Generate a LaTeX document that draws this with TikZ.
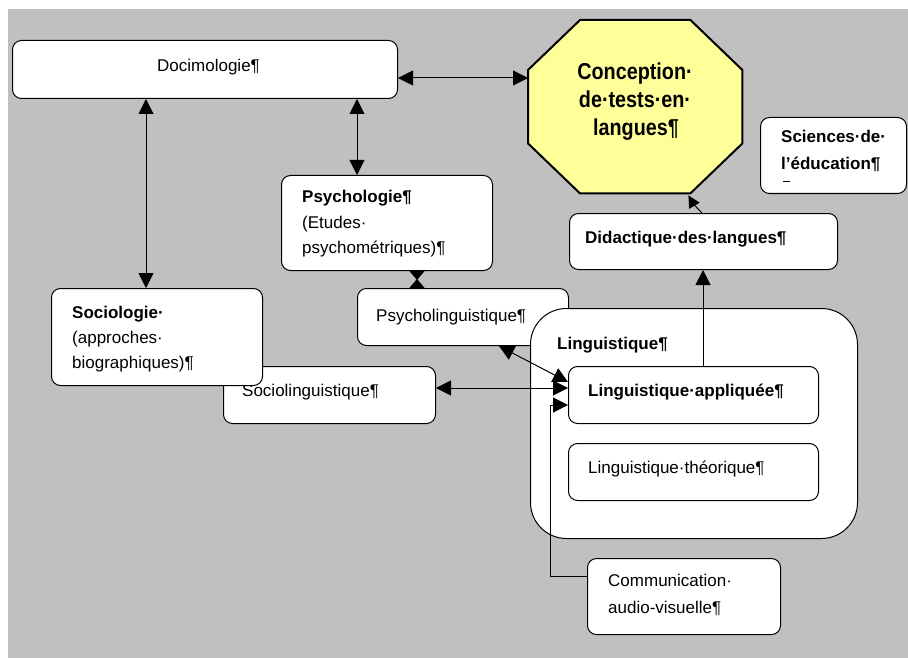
\documentclass[tikz,border=0pt]{standalone}
\usepackage{fontspec}
\setmainfont{Liberation Sans}
\usetikzlibrary{arrows.meta,calc}
\definecolor{bggray}{HTML}{C0C0C0}
\definecolor{octyellow}{HTML}{FFFF99}
\newcommand{\narrow}[1]{\scalebox{0.86}[1]{#1}}
\begin{document}
\begin{tikzpicture}[x=1pt,y=-1pt,
  box/.style={draw=black, fill=white, line width=1pt, rounded corners=9pt,
    inner sep=0pt, anchor=north west},
  txt/.style={inner sep=0pt, anchor=base west, font=\fontsize{17}{25}\selectfont},
  btxt/.style={inner sep=0pt, anchor=base west, font=\fontsize{17}{25}\selectfont\bfseries},
  ctxt/.style={inner sep=0pt, anchor=base, font=\fontsize{23}{28}\selectfont\bfseries},
  tip/.tip={Triangle[length=15pt,width=15pt]},
  bowtip/.tip={Triangle[reversed,length=9pt,width=15pt]},
  arr/.style={line width=1pt, -tip},
  darr/.style={line width=1pt, tip-tip},
]
% canvas
\fill[white] (0,0) rectangle (908,658);
\useasboundingbox (0,0) rectangle (908,658);
\fill[bggray] (8,9) rectangle (908,658);

% central octagon
\node[minimum width=214pt, minimum height=173pt, inner sep=0pt, anchor=north west] (concept) at (528,20) {};
\draw[line width=2pt, fill=octyellow]
  ($(concept.north west)+(52,0)$) -- ($(concept.north east)+(-52,0)$)
  -- ($(concept.north east)+(0,50)$) -- ($(concept.south east)+(0,-50)$)
  -- ($(concept.south east)+(-52,0)$) coordinate (oBR) -- ($(concept.south west)+(52,0)$)
  -- ($(concept.south west)+(0,-50)$) -- ($(concept.north west)+(0,50)$) -- cycle;
\node[ctxt] (c1) at (635,80) {\narrow{Conception·}};
\node[ctxt] (c2) at (635,108) {\narrow{de·tests·en·}};
\node[ctxt] (c3) at (636,136) {\narrow{langues¶}};

% boxes (back to front)
\node[box, minimum width=385pt, minimum height=58pt] (doc) at (12,40) {};
\node[txt] (docT) at (157,72) {Docimologie¶};

\node[box, minimum width=146pt, minimum height=76pt] (sci) at (760,117) {};
\node[btxt] (sci1) at (781,143) {Sciences·de·};
\node[btxt] (sci2) at (781,170) {l’éducation¶};
\draw[line width=1pt] (783,182) -- (790,182);

\node[box, minimum width=268pt, minimum height=56pt] (dida) at (569,213) {};
\node[btxt] (didaT) at (585,243) {Didactique·des·langues¶};

\node[box, minimum width=211pt, minimum height=95pt] (psych) at (281,175) {};
\node[btxt] (ps1) at (302,203) {Psychologie¶};
\node[txt] (ps2) at (302,228) {(Etudes·};
\node[txt] (ps3) at (302,253) {psychométriques)¶};

\node[box, minimum width=211pt, minimum height=57pt] (psl) at (357,288) {};
\node[txt] (pslT) at (376,321) {Psycholinguistique¶};

\node[box, minimum width=212pt, minimum height=57pt] (sling) at (223,366) {};
\node[txt] (slingT) at (242,396) {Sociolinguistique¶};

\node[box, minimum width=211pt, minimum height=97pt] (socio) at (51,288) {};
\node[btxt] (so1) at (72,318) {Sociologie·};
\node[txt] (so2) at (72,343) {(approches·};
\node[txt] (so3) at (72,368) {biographiques)¶};

\node[box, rounded corners=36pt, minimum width=327pt, minimum height=230pt] (ling) at (530,308) {};
\node[btxt] (lingT) at (557,349) {Linguistique¶};

\node[box, minimum width=250pt, minimum height=57pt] (appl) at (568,366) {};
\node[btxt] (applT) at (588,396) {Linguistique·appliquée¶};

\node[box, minimum width=250pt, minimum height=57pt] (theo) at (568,443) {};
\node[txt] (theoT) at (588,473) {Linguistique·théorique¶};

\node[box, minimum width=193pt, minimum height=76pt] (comm) at (587,558) {};
\node[txt] (cm1) at (608,586) {Communication·};
\node[txt] (cm2) at (608,613) {audio-visuelle¶};

% connector guide points
\coordinate (xs) at (146,0);
\coordinate (xp) at (357,0);
\coordinate (xpl) at (417,0);
\coordinate (xsl) at (499,0);
\coordinate (xd) at (703,0);
\coordinate (yd) at (0,78);
\coordinate (ys) at (0,388);
\coordinate (bend) at (550,576);

% connectors
\draw[darr] (doc.east |- yd) -- (concept.west |- yd);
\draw[darr] (doc.south -| xs) -- (socio.north -| xs);
\draw[darr] (doc.south -| xp) -- (psych.north -| xp);
\draw[line width=1pt, bowtip-bowtip] (psych.south -| xpl) -- (psl.north -| xpl);
\draw[darr] (psl.south -| xsl) -- ([yshift=-16pt]appl.north west);
\draw[darr] (sling.east |- ys) -- (appl.west |- ys);
\draw[arr] (comm.west |- bend) -- (bend) |- ([yshift=-39pt]appl.north west);
\draw[arr] (appl.north -| xd) -- (dida.south -| xd);
\draw[line width=1pt, -{Triangle[length=12pt,width=12pt]}]
  ([xshift=-1pt]dida.north -| xd) to[out=135, in=-60] ($(oBR)+(-2,2)$);
\end{tikzpicture}
\end{document}
